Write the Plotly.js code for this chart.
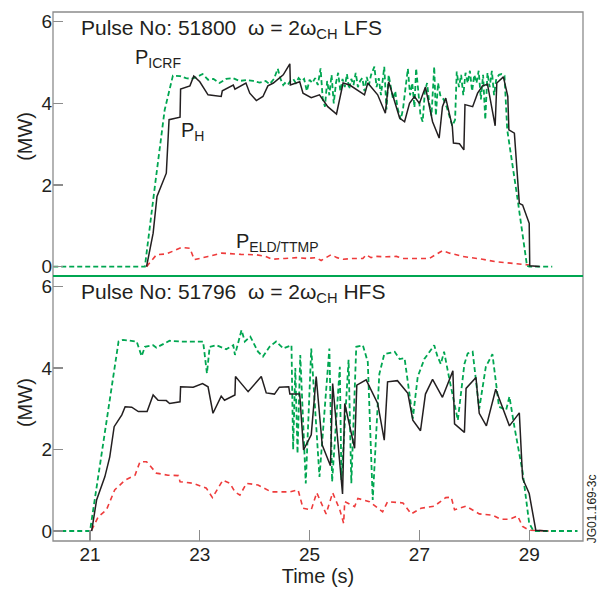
<!DOCTYPE html>
<html><head><meta charset="utf-8">
<script src="https://cdn.plot.ly/plotly-3.0.1.min.js"></script>
<style>html,body{margin:0;padding:0;background:#fff}#c{width:601px;height:590px}</style>
</head><body><div id="c"></div>
<script>
// ---- Top panel: Pulse 51800, LFS ----
const topIcrfT = [20.33,22.0,22.18,22.36,22.51,22.64,22.75,22.85,22.95,23.05,23.15,23.25,23.36,23.48,23.6,23.72,23.85,23.97,24.09,24.2,24.27,24.35,24.42,24.47,24.52,
 24.55,24.6,24.65,24.7,24.75,24.8,24.85,24.9,24.95,25.0,25.05,25.1,25.15,25.2,25.24,25.28,25.32,25.36,25.4,25.44,25.48,25.52,25.56,25.6,25.64,25.68,25.72,25.76,25.8,25.84,25.88,25.92,25.96,26.0,26.04,26.08,26.12,26.18,26.22,26.26,26.3,26.36,26.4,26.44,26.48,26.52,26.56,26.6,26.66,26.7,26.74,26.79,26.83,26.87,26.91,26.94,26.98,27.02,27.06,27.1,27.14,27.18,27.22,27.27,27.3,27.34,27.38,27.44,27.5,27.55,27.6,27.65,27.68,27.72,27.76,27.8,27.84,27.88,27.92,27.96,28.0,28.04,28.08,28.12,28.16,28.2,28.24,28.28,28.32,28.36,28.4,28.45,28.5,28.55,28.6,28.78,28.96,29.0,29.42];
const topIcrfV = [0,0,1.95,3.84,4.68,4.67,4.62,4.6,4.65,4.72,4.58,4.6,4.5,4.6,4.62,4.55,4.57,4.55,4.51,4.55,4.47,4.6,4.85,4.6,4.45,
 4.5,4.45,4.55,4.6,4.5,4.62,4.55,4.6,4.3,4.58,4.5,4.62,4.45,4.86,4.1,3.92,4.55,4.2,4.7,4.0,4.5,4.75,4.3,4.6,4.4,4.72,4.35,4.6,4.45,4.75,4.4,4.55,4.62,4.3,4.65,4.45,4.7,4.9,4.4,4.62,4.2,4.9,3.85,4.7,4.4,4.1,4.3,3.9,3.6,3.85,4.3,4.85,4.2,4.5,3.9,4.86,4.3,3.7,3.55,4.3,4.5,4.0,3.7,4.9,3.7,4.5,4.2,4.1,3.9,3.7,3.45,3.6,4.78,4.4,4.7,4.2,4.75,4.5,4.8,4.3,4.7,4.5,4.8,4.1,4.7,3.6,4.75,4.4,4.8,4.2,4.6,4.7,4.72,4.68,3.35,1.73,0.02,0,0];
const topHT = [22.03,22.15,22.22,22.39,22.44,22.64,22.65,22.82,22.89,23.0,23.15,23.39,23.41,23.61,23.64,23.84,23.91,24.03,24.15,24.24,24.34,24.52,24.64,24.65,24.82,24.88,25.03,25.18,25.33,25.49,25.61,25.73,26.0,26.06,26.24,26.38,26.44,26.64,26.73,26.82,26.91,27.0,27.11,27.24,27.36,27.42,27.48,27.6,27.62,27.73,27.81,27.83,27.97,28.06,28.15,28.24,28.38,28.41,28.53,28.61,28.63,28.73,28.82,28.88,29.0,29.01,29.19];
const topHV = [0,0.82,1.72,2.29,3.6,3.66,4.35,4.43,4.67,4.53,4.21,4.17,4.31,4.45,4.35,4.5,4.25,4.07,4.17,4.43,4.5,4.7,4.97,4.45,4.53,4.25,4.14,4.21,3.92,3.74,4.5,4.45,4.21,4.5,4.21,3.76,4.53,3.64,3.55,4.0,4.17,4.0,4.4,3.55,3.15,3.92,4.13,3.43,3.03,3.01,2.86,3.97,3.92,4.25,4.43,4.47,3.45,4.5,4.65,4.17,3.35,3.27,1.55,1.51,1.06,0.02,0];
const topEldT = [22.03,22.21,22.39,22.67,22.82,22.9,23.15,23.4,23.75,24.03,24.2,24.32,24.55,24.76,24.95,25.12,25.21,25.39,25.5,25.61,25.8,25.97,26.03,26.12,26.21,26.4,26.58,26.7,26.88,27.05,27.18,27.42,27.55,27.79,28.0,28.15,28.39,28.55,28.7,29.0];
const topEldV = [0,0.29,0.31,0.47,0.45,0.17,0.25,0.33,0.3,0.29,0.25,0.18,0.2,0.22,0.2,0.22,0.15,0.29,0.22,0.18,0.2,0.2,0.29,0.22,0.25,0.24,0.25,0.2,0.2,0.21,0.2,0.39,0.33,0.25,0.22,0.18,0.12,0.1,0.08,0.04];

// ---- Bottom panel: Pulse 51796, HFS ----
const botIcrfT = [20.33,21.0,21.52,21.6,21.85,21.94,22.0,22.15,22.21,22.45,22.64,23.06,23.13,23.18,23.3,23.48,23.61,23.64,23.76,23.82,23.92,24.06,24.15,24.27,24.39,24.52,24.67,24.7,24.74,24.78,24.83,24.93,25.03,25.18,25.36,25.41,25.55,25.58,25.71,25.76,25.85,25.97,26.06,26.15,26.27,26.36,26.55,26.64,26.73,26.88,26.97,27.09,27.27,27.33,27.39,27.45,27.55,27.7,27.82,27.88,27.97,28.09,28.21,28.33,28.45,28.58,28.64,28.73,28.88,29.0,29.08,29.88];
const botIcrfV = [0,0,4.65,4.69,4.65,4.29,4.52,4.56,4.5,4.67,4.65,4.65,3.87,4.52,4.56,4.46,4.56,4.32,4.93,4.65,4.77,4.4,4.28,4.52,4.65,4.48,4.56,2.0,4.0,1.9,4.32,1.17,4.48,1.33,4.48,1.21,4.03,1.25,4.2,1.17,4.52,4.56,4.15,0.76,3.85,4.34,4.4,4.22,4.24,2.76,3.79,4.22,4.56,4.28,4.1,4.4,3.7,2.72,4.1,4.36,4.4,3.0,4.03,4.34,3.05,2.97,3.3,2.56,1.45,0.19,0,0];
const botHT = [21.03,21.12,21.27,21.36,21.44,21.58,21.64,21.76,21.88,22.04,22.15,22.24,22.39,22.45,22.64,22.65,22.88,23.05,23.15,23.24,23.39,23.45,23.64,23.65,23.73,23.88,24.12,24.21,24.36,24.45,24.62,24.64,24.82,24.89,25.03,25.12,25.23,25.38,25.42,25.6,25.64,25.82,25.86,26.03,26.24,26.36,26.42,26.6,26.79,26.88,27.02,27.11,27.24,27.42,27.61,27.64,27.82,27.85,28.03,28.09,28.22,28.39,28.64,28.82,28.88,29.0,29.12,29.33];
const botHV = [0,0.76,1.33,1.82,2.56,2.85,3.05,3.04,2.93,2.93,3.34,3.21,3.2,3.13,3.17,3.54,3.53,3.62,3.54,2.89,3.31,3.21,3.34,3.79,3.66,3.42,3.79,3.39,3.36,3.53,3.54,3.36,3.36,1.99,2.36,3.79,2.11,1.6,3.62,0.91,3.13,2.03,3.58,3.71,3.13,2.23,3.66,3.69,3.38,2.72,2.46,3.36,3.72,3.28,3.93,2.63,2.42,3.5,3.77,2.89,2.58,3.48,2.58,2.9,1.29,0.92,0.02,0];
const botEldT = [21.03,21.15,21.3,21.45,21.64,21.82,21.91,22.03,22.21,22.42,22.61,22.64,22.88,23.12,23.23,23.42,23.55,23.64,23.73,23.85,24.06,24.3,24.64,24.79,24.88,25.03,25.13,25.3,25.42,25.55,25.62,25.64,25.82,25.88,26.09,26.33,26.42,26.7,26.85,27.03,27.27,27.48,27.58,27.64,27.85,28.09,28.33,28.48,28.64,28.79,28.88,29.0,29.36];
const botEldV = [0.02,0.35,0.52,1.01,1.25,1.37,1.7,1.7,1.42,1.37,1.36,1.21,1.17,1.05,0.82,1.25,1.17,0.96,0.88,1.17,1.13,0.96,0.96,1.01,0.56,0.52,0.94,0.42,0.94,0.52,0.19,0.72,0.6,0.8,0.72,0.47,0.72,0.69,0.42,0.56,0.61,0.82,0.83,0.52,0.61,0.42,0.39,0.29,0.29,0.37,0.11,0.02,0];

const xTicks = [21,23,25,27,29];
const yTicks = [0,2,4,6];

const GREEN = '#00a651', RED = '#ee3b3b', BLACK = '#231f20', GREY = '#8c8c8c';
const dashG = '5px,3px', dashR = '5px,4px';

function tr(x, y, xa, ya, color, dash, w) {
  return {x:x, y:y, xaxis:xa, yaxis:ya, type:'scatter', mode:'lines',
    line:{color:color, width:w, dash:dash}, hoverinfo:'skip', showlegend:false};
}
const data = [
  tr(topEldT, topEldV, 'x2','y2', RED, dashR, 1.6),
  tr(topIcrfT, topIcrfV, 'x2','y2', GREEN, dashG, 1.8),
  tr(topHT, topHV, 'x2','y2', BLACK, 'solid', 1.5),
  tr(botEldT, botEldV, 'x','y', RED, dashR, 1.6),
  tr(botIcrfT, botIcrfV, 'x','y', GREEN, dashG, 1.8),
  tr(botHT, botHV, 'x','y', BLACK, 'solid', 1.5)
];

const F = 'Liberation Sans, Arial, sans-serif';
const split = 265/529;
const layout = {
  width:601, height:590,
  margin:{l:53, r:18, t:12, b:49},
  paper_bgcolor:'#fff', plot_bgcolor:'#fff',
  font:{family:F, size:19, color:'#231f20'},
  xaxis:{domain:[0,1], anchor:'y', range:[20.326,29.98], tickvals:xTicks, ticktext:xTicks.map(String),
    ticks:'inside', ticklen:11, tickcolor:GREY, tickwidth:1.2, showline:false, showgrid:false, zeroline:false,
    tickfont:{size:19, family:F}, title:{text:'Time (s)', font:{size:20, family:F}, standoff:4}},
  xaxis2:{domain:[0,1], anchor:'y2', matches:'x', range:[20.326,29.98], showticklabels:false, ticks:'',
    showline:false, showgrid:false, zeroline:false},
  yaxis:{domain:[0, split], anchor:'x', range:[-0.245, 6.258], tickvals:yTicks, ticktext:yTicks.map(String),
    ticks:'inside', ticklen:10, tickcolor:GREY, tickwidth:1.2, showline:false, showgrid:false, zeroline:false,
    tickfont:{size:19, family:F}},
  yaxis2:{domain:[split, 1], anchor:'x2', range:[-0.23, 6.24], tickvals:yTicks, ticktext:yTicks.map(String),
    ticks:'inside', ticklen:10, tickcolor:GREY, tickwidth:1.2, showline:false, showgrid:false, zeroline:false,
    tickfont:{size:19, family:F}},
  shapes:[
    {type:'rect', xref:'paper', yref:'paper', x0:0, x1:1, y0:0, y1:1, line:{color:GREY, width:1.3}},
    {type:'line', xref:'paper', yref:'paper', x0:0, x1:1, y0:split, y1:split, line:{color:GREEN, width:1.8}}
  ],
  annotations:[
    {xref:'x2', yref:'y2', x:20.8, y:5.82, xanchor:'left', yanchor:'middle', showarrow:false,
      text:'Pulse No: 51800  ω = 2ω<sub>CH</sub> LFS', font:{size:21, family:F}},
    {xref:'x', yref:'y', x:20.8, y:5.85, xanchor:'left', yanchor:'middle', showarrow:false,
      text:'Pulse No: 51796  ω = 2ω<sub>CH</sub> HFS', font:{size:21, family:F}},
    {xref:'x2', yref:'y2', x:21.79, y:5.1, xanchor:'left', yanchor:'middle', showarrow:false,
      text:'P<sub>ICRF</sub>', font:{size:20, family:F}},
    {xref:'x2', yref:'y2', x:22.62, y:3.32, xanchor:'left', yanchor:'middle', showarrow:false,
      text:'P<sub>H</sub>', font:{size:20, family:F}},
    {xref:'x2', yref:'y2', x:23.62, y:0.6, xanchor:'left', yanchor:'middle', showarrow:false,
      text:'P<sub>ELD/TTMP</sub>', font:{size:20, family:F}},
    {xref:'paper', yref:'y2', x:0, xshift:-28, y:3.18, xanchor:'center', yanchor:'middle', showarrow:false,
      text:'(MW)', textangle:-90, font:{size:20, family:F}},
    {xref:'paper', yref:'y', x:0, xshift:-28, y:3.14, xanchor:'center', yanchor:'middle', showarrow:false,
      text:'(MW)', textangle:-90, font:{size:20, family:F}},
    {xref:'paper', yref:'paper', x:1, xshift:9, y:0.06, xanchor:'center', yanchor:'middle', showarrow:false,
      text:'JG01.169-3c', textangle:-90, font:{size:12, family:F}}
  ]
};
Plotly.newPlot('c', data, layout, {staticPlot:true, displayModeBar:false});
</script></body></html>
